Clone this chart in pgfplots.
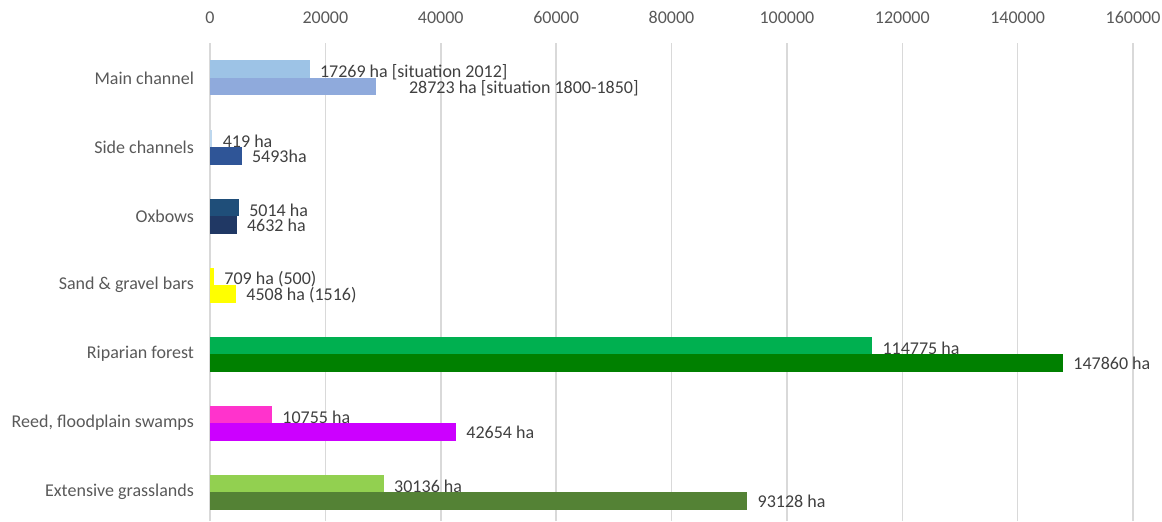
\documentclass[border=0pt]{standalone}
\usepackage{pgfplots}
\pgfplotsset{compat=1.18}
\usepackage{fontspec}
\setmainfont{Carlito}

\definecolor{labgray}{HTML}{595959}
\definecolor{valgray}{HTML}{404040}
\definecolor{gridgray}{HTML}{D9D9D9}
% 2012 situation (upper bar) / 1800-1850 situation (lower bar)
\definecolor{mainA}{HTML}{9DC3E6}
\definecolor{mainB}{HTML}{8FAADC}
\definecolor{sideA}{HTML}{BDD7EE}
\definecolor{sideB}{HTML}{2F5597}
\definecolor{oxA}{HTML}{1F4E79}
\definecolor{oxB}{HTML}{203864}
\definecolor{sandA}{HTML}{FFFF00}
\definecolor{sandB}{HTML}{FFFF00}
\definecolor{ripA}{HTML}{00B050}
\definecolor{ripB}{HTML}{008000}
\definecolor{reedA}{HTML}{FF33CC}
\definecolor{reedB}{HTML}{CC00FF}
\definecolor{grassA}{HTML}{92D050}
\definecolor{grassB}{HTML}{548235}

\pgfplotsset{
  upper/.style={draw=none, fill=#1, bar shift=4.375pt,
    every node near coord/.append style={yshift=-1.5pt}},
  lower/.style={draw=none, fill=#1, bar shift=-4.375pt,
    every node near coord/.append style={yshift=-0.5pt}},
}

\begin{document}
\begin{tikzpicture}
\useasboundingbox (-105pt,0pt) rectangle (476pt,260.5pt);
\begin{axis}[
  at={(0pt,0pt)}, anchor=south west,
  scale only axis, width=461.5pt, height=238.75pt,
  xbar, bar width=8.75pt,
  xmin=0, xmax=160000, ymin=-0.42, ymax=6.5,
  xtick={0,20000,...,160000}, scaled x ticks=false,
  xticklabel pos=upper,
  xticklabel style={yshift=6.5pt},
  xmajorgrids, grid style={color=gridgray, line width=0.75pt},
  ytick={0,...,6},
  yticklabels={Extensive grasslands, {Reed, floodplain swamps}, Riparian forest,
    Sand \& gravel bars, Oxbows, Side channels, Main channel},
  yticklabel style={xshift=-4.5pt},
  axis line style={draw=none}, major tick length=0pt,
  tick label style={font=\fontsize{9}{11}\selectfont, text=labgray},
  point meta=x,
  every node near coord/.append style={font=\fontsize{9}{11}\selectfont, text=valgray, inner sep=2pt, xshift=3pt},
  /pgf/number format/1000 sep={},
  /pgf/number format/fixed,
  /pgf/number format/precision=0,
  /pgf/number format/assume math mode=true,
]
% Main channel
\addplot[upper=mainA, nodes near coords={\pgfmathprintnumber{\pgfplotspointmeta} ha [situation 2012]}] coordinates {(17269,6)};
\addplot[lower=mainB, nodes near coords={\pgfmathprintnumber{\pgfplotspointmeta} ha [situation 1800-1850]},
  every node near coord/.append style={xshift=11.5pt}] coordinates {(28723,6)};
% Side channels
\addplot[upper=sideA, nodes near coords={\pgfmathprintnumber{\pgfplotspointmeta} ha}] coordinates {(419,5)};
\addplot[lower=sideB, nodes near coords={\pgfmathprintnumber{\pgfplotspointmeta}ha}] coordinates {(5493,5)};
% Oxbows
\addplot[upper=oxA, nodes near coords={\pgfmathprintnumber{\pgfplotspointmeta} ha}] coordinates {(5014,4)};
\addplot[lower=oxB, nodes near coords={\pgfmathprintnumber{\pgfplotspointmeta} ha}] coordinates {(4632,4)};
% Sand & gravel bars
\addplot[upper=sandA, nodes near coords={\pgfmathprintnumber{\pgfplotspointmeta} ha (500)}] coordinates {(709,3)};
\addplot[lower=sandB, nodes near coords={\pgfmathprintnumber{\pgfplotspointmeta} ha (1516)}] coordinates {(4508,3)};
% Riparian forest
\addplot[upper=ripA, nodes near coords={\pgfmathprintnumber{\pgfplotspointmeta} ha}] coordinates {(114775,2)};
\addplot[lower=ripB, nodes near coords={\pgfmathprintnumber{\pgfplotspointmeta} ha}] coordinates {(147860,2)};
% Reed, floodplain swamps
\addplot[upper=reedA, nodes near coords={\pgfmathprintnumber{\pgfplotspointmeta} ha}] coordinates {(10755,1)};
\addplot[lower=reedB, nodes near coords={\pgfmathprintnumber{\pgfplotspointmeta} ha}] coordinates {(42654,1)};
% Extensive grasslands
\addplot[upper=grassA, nodes near coords={\pgfmathprintnumber{\pgfplotspointmeta} ha}] coordinates {(30136,0)};
\addplot[lower=grassB, nodes near coords={\pgfmathprintnumber{\pgfplotspointmeta} ha}] coordinates {(93128,0)};
\end{axis}
\end{tikzpicture}
\end{document}
